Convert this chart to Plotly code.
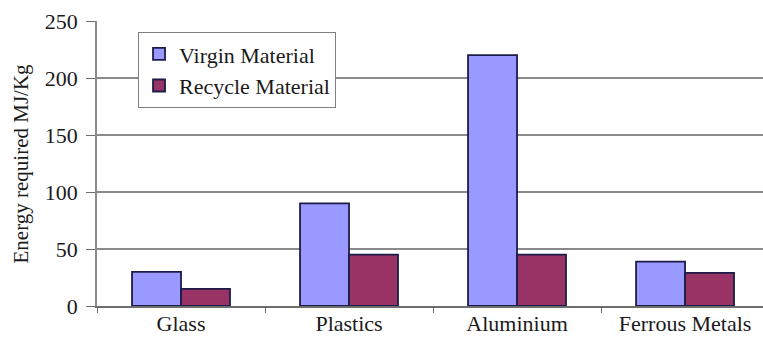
import plotly.graph_objects as go

categories = ["Glass", "Plastics", "Aluminium", "Ferrous Metals"]
virgin = [30, 90, 220, 39]
recycle = [15, 45, 45, 29]
y_ticks = [0, 50, 100, 150, 200, 250]

font_family = "Liberation Serif, Times New Roman, serif"
outline = "#1c1c4a"

fig = go.Figure()
fig.add_trace(go.Bar(
    x=categories, y=virgin, name="Virgin Material",
    marker=dict(color="#9999ff", line=dict(color=outline, width=1.8)),
    legendgroup="v",
))
fig.add_trace(go.Bar(
    x=categories, y=recycle, name="Recycle Material",
    marker=dict(color="#993366", line=dict(color=outline, width=1.8)),
    legendgroup="r",
))

fig.update_layout(
    width=763, height=342,
    margin=dict(l=97, r=0, t=21, b=36),
    paper_bgcolor="white", plot_bgcolor="white",
    barmode="group", bargap=0.417, bargroupgap=0,
    font=dict(family=font_family, size=22, color="#1a1a1a"),
    legend=dict(
        x=0.0616, y=0.961, xanchor="left", yanchor="top",
        bgcolor="white", bordercolor="#808080", borderwidth=1,
        font=dict(size=22), tracegroupgap=0,
        itemwidth=30,
    ),
    showlegend=True,
)

fig.update_xaxes(
    range=[-0.5, 3.464],
    showline=True, linecolor="#6e6e6e", linewidth=1.5,
    ticks="outside", tickson="boundaries", ticklen=5, tickcolor="#6e6e6e",
    showgrid=False, tickfont=dict(size=22), ticklabelstandoff=-3,
)
fig.update_yaxes(
    range=[0, 250], tickvals=y_ticks,
    showline=True, linecolor="#8a8a8a", linewidth=1.5,
    ticks="outside", ticklen=9, tickcolor="#6e6e6e",
    showgrid=True, gridcolor="#8a8a8a", gridwidth=1.5,
    zeroline=False,
    tickfont=dict(size=22), ticklabelstandoff=4,
)

# Y-axis title placed as a rotated annotation left of the tick labels
fig.add_annotation(
    text="Energy required MJ/Kg",
    xref="paper", yref="paper", x=-77 / 666, y=0.5,
    xanchor="center", yanchor="middle", textangle=-90,
    showarrow=False, font=dict(size=21),
)

fig.write_html("out.html")
